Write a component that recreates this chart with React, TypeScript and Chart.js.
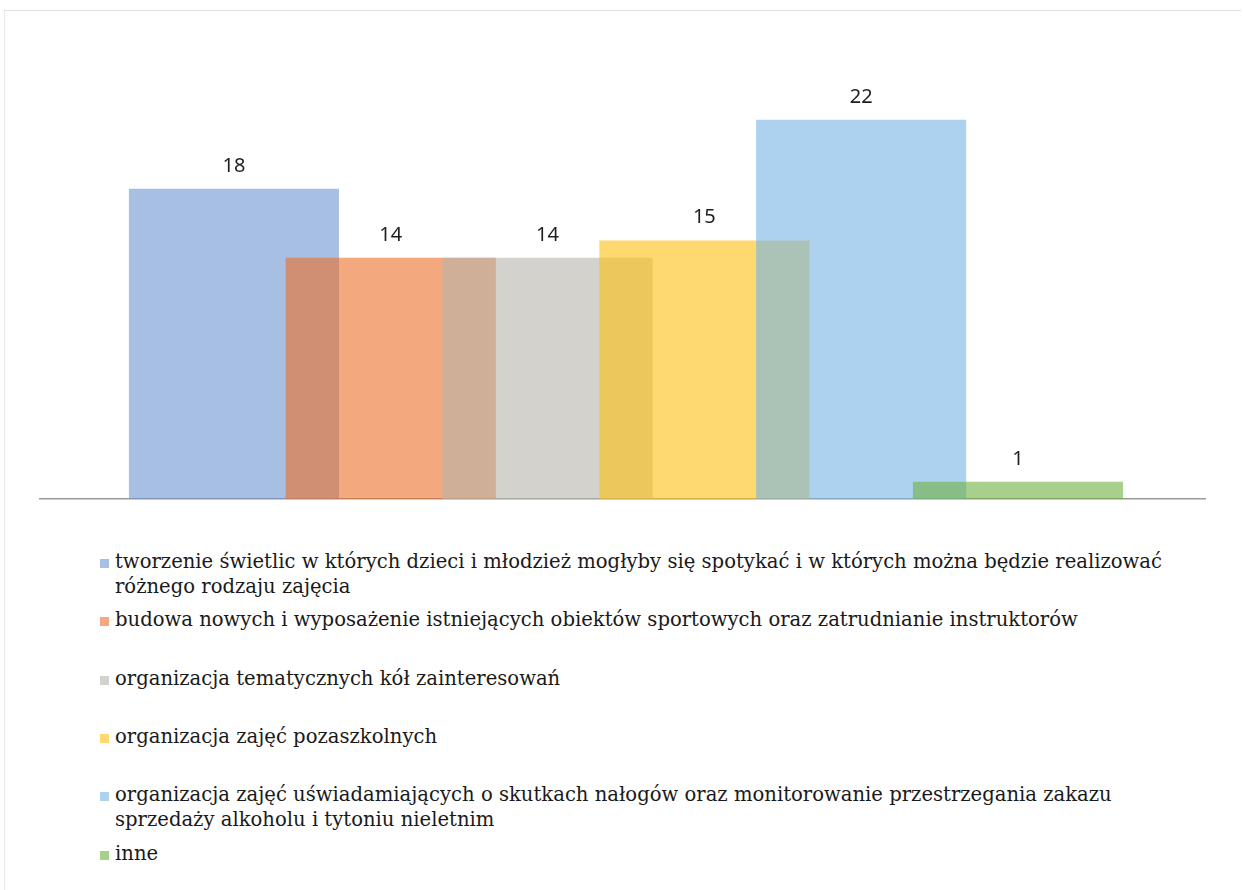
import React, { useEffect, useRef } from "react";
import { Chart, registerables } from "chart.js";

Chart.register(...registerables);

const categories = [
  "tworzenie świetlic w których dzieci i młodzież mogłyby się spotykać i w których można będzie realizować różnego rodzaju zajęcia",
  "budowa nowych i wyposażenie istniejących obiektów sportowych oraz zatrudnianie instruktorów",
  "organizacja tematycznych kół zainteresowań",
  "organizacja zajęć pozaszkolnych",
  "organizacja zajęć uświadamiających o skutkach nałogów oraz monitorowanie przestrzegania zakazu sprzedaży alkoholu i tytoniu nieletnim",
  "inne",
];

const values = [18, 14, 14, 15, 22, 1];

const barColors = [
  "rgba(107,148,207,0.6)",
  "rgba(237,110,40,0.6)",
  "rgba(182,180,170,0.6)",
  "rgba(252,192,17,0.6)",
  "rgba(117,180,230,0.6)",
  "rgba(110,175,63,0.6)",
];

const positions = [0, 1, 2, 3, 4, 5];

export default function App() {
  const ref = useRef<HTMLCanvasElement | null>(null);

  useEffect(() => {
    document.body.style.margin = "0";
    const valueLabels = {
      id: "valueLabels",
      afterDatasetsDraw(chart: any) {
        const ctx = chart.ctx;
        const meta = chart.getDatasetMeta(0);
        ctx.save();
        ctx.font = "20px 'Noto Sans'";
        ctx.fillStyle = "#1e1e1e";
        ctx.textAlign = "center";
        ctx.textBaseline = "alphabetic";
        meta.data.forEach((el: any, i: number) => {
          ctx.fillText(String(values[i]), el.x, el.y - 17);
        });
        ctx.restore();
      },
    };
    const chart = new Chart(ref.current as HTMLCanvasElement, {
      type: "bar",
      data: {
        datasets: [
          {
            data: positions.map((x, i) => ({ x, y: values[i] })),
            backgroundColor: barColors,
            borderWidth: 0,
            barPercentage: 1.34,
            categoryPercentage: 1,
          } as any,
        ],
      },
      options: {
        animation: false,
        responsive: false,
        maintainAspectRatio: false,
        layout: { padding: { left: 40, right: 38, top: 68, bottom: 23 } },
        plugins: { legend: { display: false }, tooltip: { enabled: false } },
        scales: {
          x: {
            type: "linear",
            min: -1.237,
            max: 6.193,
            offset: false,
            grid: { display: false },
            ticks: { display: false },
            border: { display: true, color: "#9a9a9a", width: 1.5 },
          },
          y: { display: false, min: 0, max: 25 },
        },
      } as any,
      plugins: [valueLabels],
    });
    return () => chart.destroy();
  }, []);

  return (
    <div style={{ position: "relative", width: 1243, height: 890, background: "#fff" }}>
      <div
        style={{
          position: "absolute",
          left: 4,
          top: 10,
          width: 1236,
          height: 880,
          borderTop: "1px solid #e2e2e2",
          borderLeft: "1px solid #e8e8e8",
        }}
      />
      <canvas
        ref={ref}
        width={1243}
        height={530}
        style={{ position: "absolute", left: 0, top: 0, display: "block" }}
      />
      {categories.map((c, i) => (
        <div
          key={i}
          style={{
            position: "absolute",
            left: 100,
            top: Math.round(548.7 + i * 58.4),
            width: 1090,
            paddingLeft: 15,
            boxSizing: "border-box",
            fontFamily: "'DejaVu Serif'",
            fontSize: 19.6,
            lineHeight: "25px",
            color: "#1a1a1a",
          }}
        >
          <span
            style={{
              position: "absolute",
              left: 0,
              top: 10,
              width: 9,
              height: 9,
              background: barColors[i],
            }}
          />
          {c}
        </div>
      ))}
    </div>
  );
}
